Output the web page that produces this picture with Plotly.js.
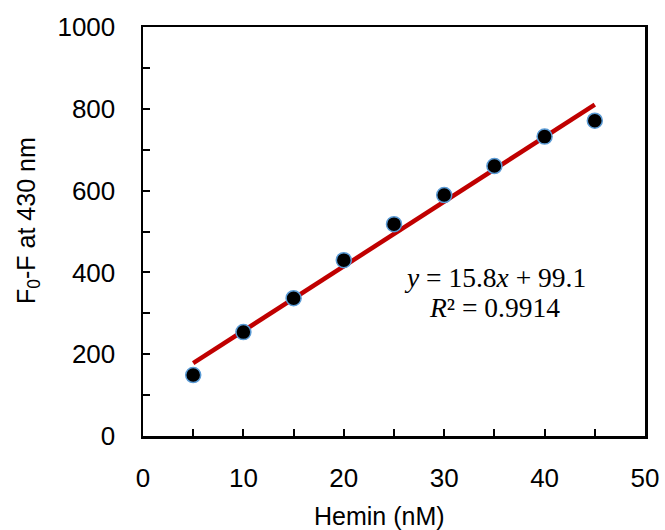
<!DOCTYPE html>
<html><head><meta charset="utf-8">
<script src="https://cdn.plot.ly/plotly-3.0.1.min.js"></script>
<style>body{margin:0;padding:0;background:#fff}#chart{width:665px;height:530px}</style>
</head><body><div id="chart"></div>
<script>
const hemin = [5, 10, 15, 20, 25, 30, 35, 40, 45];
const signal = [149, 254, 337, 430, 518, 589, 660, 732, 771];
const fitX = [5, 45];
const slope = 15.8, intercept = 99.1;
const fitY = fitX.map(x => slope * x + intercept);
const eqLines = ['<i>y</i> = 15.8<i>x</i> + 99.1', '<i>R</i>² = 0.9914'];
const xTitle = 'Hemin (nM)';
const yTitle = 'F<sub>0</sub>-F at 430 nm';

const traces = [
  {x: fitX, y: fitY, mode: 'lines', line: {color: '#c00000', width: 4.5}, hoverinfo: 'skip'},
  {x: hemin, y: signal, mode: 'markers',
   marker: {color: '#000000', size: 15, line: {color: '#5b9bd5', width: 1.5}}}
];
const tickFont = {family: 'Liberation Sans, Arial, sans-serif', size: 26, color: '#000'};
const titleFont = {family: 'Liberation Sans, Arial, sans-serif', size: 25, color: '#000'};
const L = 143, T = 27, W = 502, H = 409;
const px = v => (v - L) / W, py = v => (T + H - v) / H;
const layout = {
  width: 665, height: 530, showlegend: false,
  paper_bgcolor: '#fff', plot_bgcolor: '#fff',
  margin: {l: L, r: 665 - L - W, t: T, b: 530 - T - H},
  xaxis: {range: [0, 50], dtick: 10, ticks: 'inside', ticklen: 7, tickwidth: 2, tickcolor: '#000',
    minor: {dtick: 5, ticks: 'inside', ticklen: 7, tickwidth: 2, tickcolor: '#000'},
    showline: true, linewidth: 2.5, linecolor: '#000', mirror: true, showgrid: false, zeroline: false,
    tickfont: tickFont, ticklabelstandoff: 17},
  yaxis: {range: [0, 1000], dtick: 200, ticks: 'inside', ticklen: 7, tickwidth: 2, tickcolor: '#000',
    minor: {dtick: 100, ticks: 'inside', ticklen: 7, tickwidth: 2, tickcolor: '#000'},
    showline: true, linewidth: 2.5, linecolor: '#000', mirror: true, showgrid: false, zeroline: false,
    tickfont: tickFont, ticklabelstandoff: 20},
  annotations: eqLines.map((t, i) => ({
    xref: 'paper', yref: 'paper', x: px(494.5), y: py([277, 307][i]),
    xanchor: 'center', yanchor: 'middle', text: t, showarrow: false,
    font: {family: 'Liberation Serif, Times New Roman, serif', size: 27.5, color: '#000'}
  })).concat([
    {xref: 'paper', yref: 'paper', x: px(379), y: py(516), xanchor: 'center', yanchor: 'middle',
     text: xTitle, showarrow: false, font: titleFont},
    {xref: 'paper', yref: 'paper', x: px(28), y: py(221), xanchor: 'center', yanchor: 'middle',
     text: yTitle, textangle: -90, showarrow: false, font: titleFont}
  ])
};
Plotly.newPlot('chart', traces, layout, {displayModeBar: false, staticPlot: true});
</script></body></html>
